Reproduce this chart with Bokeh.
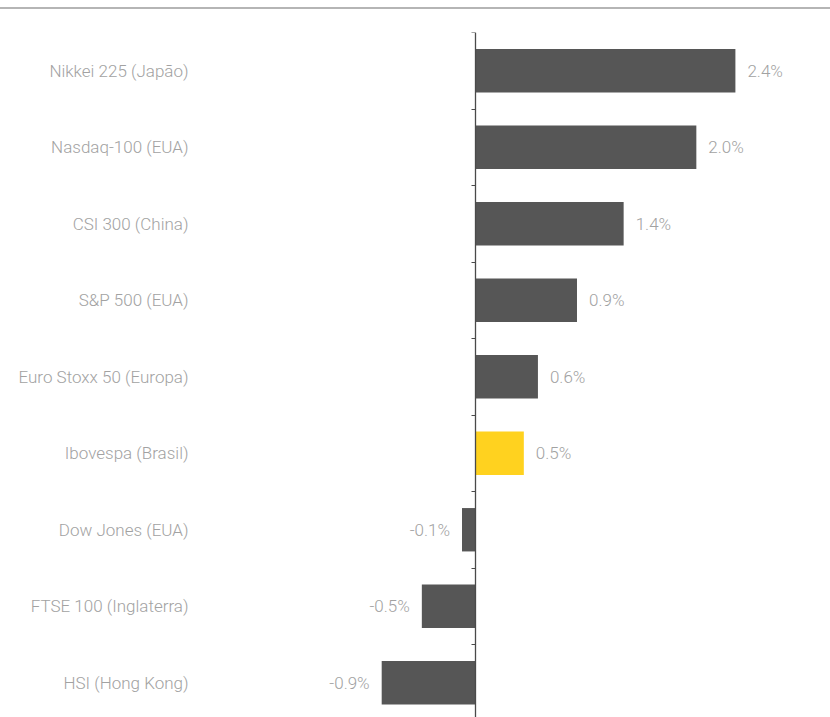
from bokeh.plotting import figure
from bokeh.models import Range1d, LinearAxis, FixedTicker, ColumnDataSource, Div
from bokeh.layouts import column
from bokeh.embed import file_html
from bokeh.resources import INLINE
from bokeh.core.properties import value

# ---- data ----
indices = ["Nikkei 225 (Japão)", "Nasdaq-100 (EUA)", "CSI 300 (China)", "S&P 500 (EUA)",
           "Euro Stoxx 50 (Europa)", "Ibovespa (Brasil)", "Dow Jones (EUA)",
           "FTSE 100 (Inglaterra)", "HSI (Hong Kong)"]
returns = [2.40, 2.04, 1.37, 0.94, 0.58, 0.45, -0.12, -0.49, -0.86]
value_labels = ["2.4%", "2.0%", "1.4%", "0.9%", "0.6%", "0.5%", "-0.1%", "-0.5%", "-0.9%"]
highlight = "Ibovespa (Brasil)"

# ---- styles ----
BAR = "#565656"
HIGHLIGHT = "#FFD21F"
TEXT = "#a2a2a2"
FONT = "Roboto Light"

pos = list(range(len(indices)))
colors = [HIGHLIGHT if n == highlight else BAR for n in indices]
pos_src = ColumnDataSource(dict(
    y=[p for p, v in zip(pos, returns) if v >= 0],
    x=[v for v in returns if v >= 0],
    t=[l for l, v in zip(value_labels, returns) if v >= 0]))
neg_src = ColumnDataSource(dict(
    y=[p for p, v in zip(pos, returns) if v < 0],
    x=[v for v in returns if v < 0],
    t=[l for l, v in zip(value_labels, returns) if v < 0]))
src = ColumnDataSource(dict(y=pos, right=returns, color=colors))

LEFT = 200
ZERO_PX = 474.5
SCALE = 108.5
FIG_W = 830
FRAME_H = 685
BAND = 76.5

p = figure(width=FIG_W, height=FRAME_H + 23, output_backend="svg", toolbar_location=None,
           x_range=Range1d(-(ZERO_PX - LEFT) / SCALE, (FIG_W - ZERO_PX) / SCALE),
           y_range=Range1d(-0.5 + FRAME_H / BAND, -0.5),
           x_axis_location=None, y_axis_location=None,
           min_border_left=LEFT, min_border_right=0, min_border_top=23, min_border_bottom=0)
p.outline_line_color = None
p.xgrid.visible = False
p.ygrid.visible = False
p.background_fill_color = "white"
p.border_fill_color = "white"

p.hbar(y="y", left=0, right="right", height=0.567, color="color", line_color=None, source=src)

# category label axis at frame left
lab_axis = LinearAxis(ticker=FixedTicker(ticks=pos),
                      major_label_overrides={i: n for i, n in zip(pos, indices)})
lab_axis.axis_line_color = None
lab_axis.major_tick_line_color = None
lab_axis.minor_tick_line_color = None
lab_axis.major_tick_out = 0
lab_axis.major_tick_in = 0
lab_axis.major_label_standoff = 12
lab_axis.major_label_text_font = FONT
lab_axis.major_label_text_font_size = "17px"
lab_axis.major_label_text_color = TEXT
p.add_layout(lab_axis, "left")

# zero line axis with ticks at category boundaries
zero_axis = LinearAxis(fixed_location=0,
                       ticker=FixedTicker(ticks=[i - 0.5 for i in pos] + [len(pos) - 0.5]))
zero_axis.axis_line_color = "#4a4a4a"
zero_axis.axis_line_width = 1.3
zero_axis.major_tick_line_color = "#4a4a4a"
zero_axis.major_tick_out = 4
zero_axis.major_tick_in = 0
zero_axis.minor_tick_line_color = None
zero_axis.major_label_text_font_size = "0px"
zero_axis.major_label_text_color = None
zero_axis.major_label_standoff = 0
p.add_layout(zero_axis, "left")

p.text(x="x", y="y", text="t", source=pos_src, x_offset=12, text_align="left",
       text_baseline="middle", text_font=value(FONT), text_font_size="17px", text_color=TEXT)
p.text(x="x", y="y", text="t", source=neg_src, x_offset=-12, text_align="right",
       text_baseline="middle", text_font=value(FONT), text_font_size="17px", text_color=TEXT)

top_line = Div(text="", width=FIG_W, height=2, margin=(7, 0, 0, 0),
               styles={"background-color": "#b5b5b5"})

layout = column(top_line, p, spacing=0)
open("out.html", "w").write(file_html(layout, INLINE))
